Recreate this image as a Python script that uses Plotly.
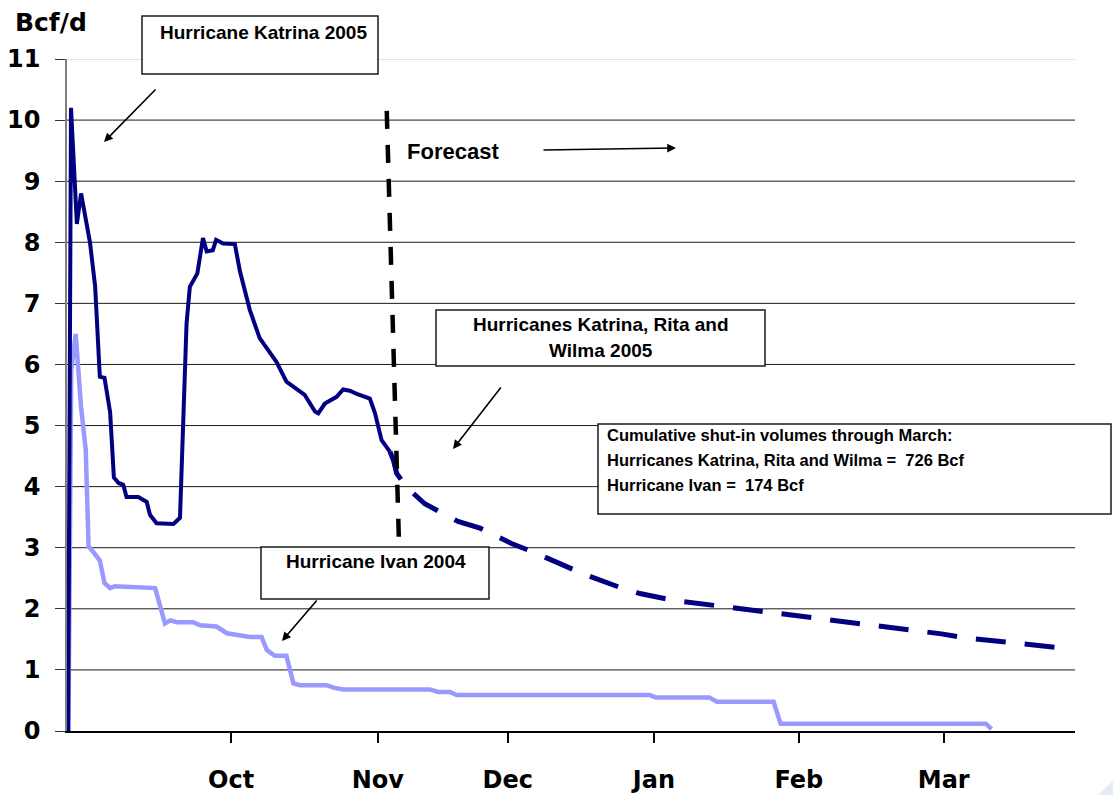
import plotly.graph_objects as go

# ---------------- data (x = days since Aug 29, 2005) ----------------
katrina_day = [0.25, 0.85, 2.1, 3.0, 4.9, 6.0, 7.0, 8.0, 9.2, 10.0, 11.0, 12.0, 12.7, 15.2, 17.0,
               17.7, 19.1, 22.7, 24.1, 24.7, 25.5, 26.2, 26.9, 27.8, 29.0, 29.8, 31.1, 31.8, 33.3,
               35.8, 36.9, 37.9, 39.0, 41.1, 44.7, 46.8, 50.7, 52.9, 53.6, 55.0, 57.5, 58.9, 60.3,
               61.8, 64.6, 65.7, 67.1, 68.9]
katrina_val = [0, 10.2, 8.3, 8.8, 8.0, 7.28, 5.8, 5.78, 5.22, 4.15, 4.06, 4.03, 3.83, 3.83, 3.75,
               3.54, 3.40, 3.39, 3.49, 4.87, 6.67, 7.27, 7.38, 7.49, 8.07, 7.85, 7.87, 8.04, 7.98,
               7.97, 7.52, 7.22, 6.89, 6.43, 6.04, 5.72, 5.50, 5.23, 5.20, 5.36, 5.47, 5.59, 5.57,
               5.52, 5.44, 5.20, 4.76, 4.57]

forecast_day = [68.9, 69.6, 70.3, 72.3, 76.3, 83.4, 88.1, 94.8, 99.4, 106.2, 110.8, 117.6, 122.2,
                129.3, 133.5, 140.6, 144.9, 152.0, 156.3, 163.7, 167.6, 175.4, 179.4, 186.5, 191.1,
                198.2, 202.3, 209.6, 214.4]
forecast_val = [4.57, 4.44, 4.22, 4.0, 3.72, 3.43, 3.32, 3.07, 2.93, 2.69, 2.55, 2.36, 2.25,
                2.14, 2.10, 2.04, 1.98, 1.93, 1.88, 1.80, 1.77, 1.69, 1.66, 1.59, 1.53,
                1.47, 1.45, 1.37, 1.34]

ivan_day = [0.3, 0.9, 1.85, 3.0, 4.0, 4.6, 5.6, 7.0, 8.0, 9.2, 10.2, 13.4, 14.5, 18.8, 20.9, 22.0,
            23.4, 26.9, 28.4, 31.9, 34.1, 36.9, 39.0, 41.5, 42.6, 44.3, 46.8, 48.3, 49.7, 55.4,
            56.8, 58.9, 77.4, 79.2, 81.7, 83.1, 124.2, 125.6, 137.0, 138.6, 150.7, 152.2, 196.0,
            197.2]
ivan_val = [0, 5.9, 6.5, 5.3, 4.6, 3.02, 2.93, 2.79, 2.42, 2.34, 2.37, 2.36, 2.34, 2.34, 1.76, 1.81,
            1.78, 1.78, 1.73, 1.71, 1.60, 1.57, 1.54, 1.54, 1.33, 1.23, 1.23, 0.78, 0.75, 0.75,
            0.71, 0.68, 0.68, 0.64, 0.64, 0.59, 0.59, 0.55, 0.55, 0.48, 0.48, 0.12, 0.12,
            0.03]

divider_day = [68.2, 70.8]
divider_val = [10.15, 3.1]

month_tick_days = [35.0, 66.3, 94.0, 125.2, 156.1, 187.0]
month_labels = ["Oct", "Nov", "Dec", "Jan", "Feb", "Mar"]
y_ticks = list(range(0, 12))

NAVY = "#000080"
IVAN = "#9999FF"

# ---------------- layout geometry (pixels) ----------------
W, H = 1113, 795
L, R, T, B = 67, 1075, 59, 731


def px(xp):
    return (xp - L) / (R - L)


def py(yp):
    return (B - yp) / (B - T)


fig = go.Figure()

fig.add_trace(go.Scatter(x=ivan_day, y=ivan_val, mode="lines",
                         line=dict(color=IVAN, width=4.5), hoverinfo="skip"))
fig.add_trace(go.Scatter(x=katrina_day, y=katrina_val, mode="lines",
                         line=dict(color=NAVY, width=4), hoverinfo="skip"))
fig.add_trace(go.Scatter(x=forecast_day, y=forecast_val, mode="lines",
                         line=dict(color=NAVY, width=5, dash="30px,19px"), hoverinfo="skip"))
fig.add_trace(go.Scatter(x=divider_day, y=divider_val, mode="lines",
                         line=dict(color="black", width=4.5, dash="18px,16px"), hoverinfo="skip"))

shapes = []
# horizontal gridlines
for v in y_ticks[1:]:
    shapes.append(dict(type="line", xref="paper", yref="y", x0=0, x1=1, y0=v, y1=v,
                       line=dict(color="#c8c8c8" if v == y_ticks[-1] else "#1a1a1a", width=1),
                       layer="below"))


def box(x0, y0, x1, y1):
    shapes.append(dict(type="rect", xref="paper", yref="paper",
                       x0=px(x0), x1=px(x1), y0=py(y1), y1=py(y0),
                       line=dict(color="#1a1a1a", width=1.5), fillcolor="white", layer="above"))


box(142, 16, 378, 74)      # Katrina
box(436, 310, 765, 366)    # Katrina, Rita, Wilma
box(598, 424, 1111, 514)   # cumulative
box(261, 547, 489, 599)    # Ivan

# corner decoration (slide background)
shapes.append(dict(type="path", xref="paper", yref="paper",
                   path=f"M {px(1098)} {py(795)} L {px(1113)} {py(781)} L {px(1113)} {py(795)} Z",
                   fillcolor="#e3ebf7", line=dict(width=0), layer="below"))

BOX_FONT = dict(family="Liberation Sans, Arial", size=19, color="black")
annotations = []


def text(t, xp, yp, anchor="center", font=BOX_FONT):
    annotations.append(dict(text=t, xref="paper", yref="paper", x=px(xp), y=py(yp),
                            xanchor=anchor, yanchor="middle", showarrow=False, font=font))


def arrow(hx, hy, tx, ty):
    annotations.append(dict(text="", xref="paper", yref="paper", x=px(hx), y=py(hy),
                            ax=tx - hx, ay=ty - hy, showarrow=True, arrowhead=2,
                            arrowsize=1.1, arrowwidth=1.6, arrowcolor="black", standoff=0))


text("<b>Bcf/d</b>", 51, 22, font=dict(family="DejaVu Sans", size=25, color="black"))
text("<b>Hurricane Katrina 2005</b>", 263, 33)
text("<b>Forecast</b>", 405, 152, anchor="left",
     font=dict(family="Liberation Sans, Arial", size=22, color="black"))
text("<b>Hurricanes Katrina, Rita and</b>", 601, 324)
text("<b>Wilma 2005</b>", 601, 350)
SMALL = dict(family="Liberation Sans, Arial", size=16.5, color="black")
text("<b>Cumulative shut-in volumes through March:</b>", 605, 435, anchor="left", font=SMALL)
text("<b>Hurricanes Katrina, Rita and Wilma =  726 Bcf</b>", 605, 460, anchor="left", font=SMALL)
text("<b>Hurricane Ivan =  174 Bcf</b>", 605, 485, anchor="left", font=SMALL)
text("<b>Hurricane Ivan 2004</b>", 376, 561)

arrow(104, 142, 157, 88)
arrow(676, 148, 542, 150)
arrow(453, 449, 502, 386)
arrow(282, 641, 318, 599)

AXIS_FONT = dict(family="DejaVu Sans", size=24, color="black", weight="bold")

fig.update_layout(
    width=W, height=H, autosize=False,
    margin=dict(l=L, r=W - R, t=T, b=H - B, pad=0, autoexpand=False),
    paper_bgcolor="white", plot_bgcolor="white",
    showlegend=False,
    shapes=shapes, annotations=annotations,
    xaxis=dict(range=[0, 215], tickvals=month_tick_days, ticktext=month_labels,
               ticks="outside", ticklen=10, tickwidth=1.5, tickcolor="black",
               showline=True, linecolor="black", linewidth=1.5, automargin=False,
               showgrid=False, zeroline=False, tickfont=AXIS_FONT, ticklabelstandoff=16),
    yaxis=dict(range=[0, 11], tickvals=y_ticks, ticks="outside", ticklen=10, tickwidth=1,
               tickcolor="#333", showline=True, linecolor="#808080", linewidth=1.5,
               automargin=False,
               showgrid=False, zeroline=False, tickfont=AXIS_FONT, ticklabelstandoff=10),
)

fig.write_html("out.html", config={"displayModeBar": False},
               post_script="document.body.style.margin='0';document.body.style.overflow='hidden';")
